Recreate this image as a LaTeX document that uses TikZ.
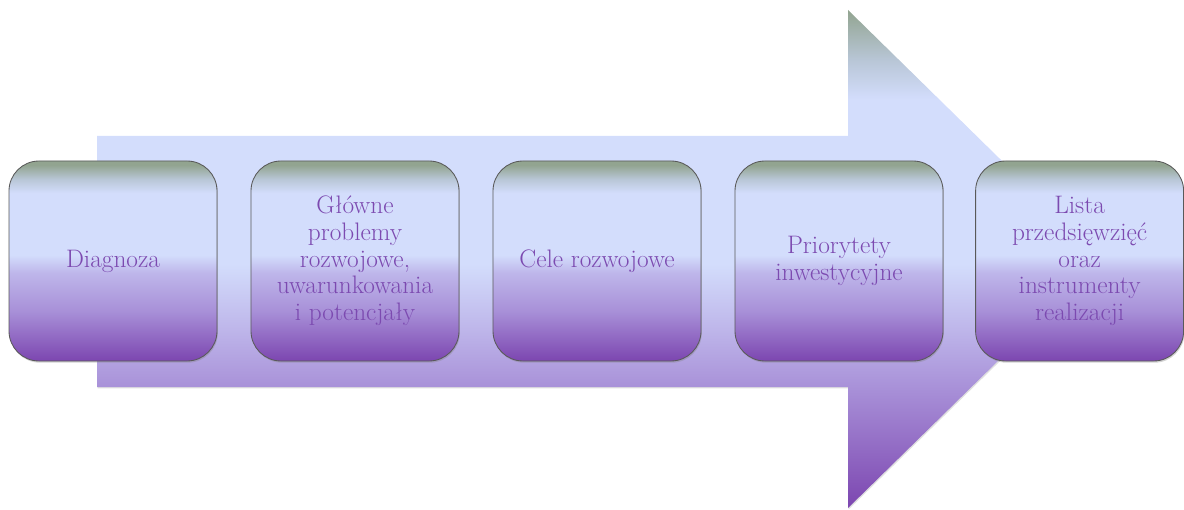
\documentclass[tikz,border=0pt]{standalone}
\usepackage{fontspec}
\usetikzlibrary{shadows,shapes}
\definecolor{sage}{RGB}{146,164,144}
\definecolor{greyblue}{RGB}{184,198,214}
\definecolor{paleblue}{RGB}{211,221,252}
\definecolor{lavender}{RGB}{190,182,234}
\definecolor{midpurple}{RGB}{168,144,216}
\definecolor{botpurple}{RGB}{124,70,176}
\definecolor{txtpurple}{RGB}{124,74,176}
\pgfdeclareverticalshading{stagefill}{100bp}{color(0bp)=(botpurple); color(25bp)=(botpurple); color(37.5bp)=(midpurple); color(47bp)=(lavender); color(51.5bp)=(paleblue); color(67bp)=(paleblue); color(70.5bp)=(greyblue); color(74bp)=(sage); color(100bp)=(sage)}
\pgfdeclareverticalshading{bigarrow}{100bp}{color(0bp)=(botpurple); color(25bp)=(botpurple); color(37bp)=(midpurple); color(43bp)=(lavender); color(49.5bp)=(paleblue); color(66bp)=(paleblue); color(70bp)=(greyblue); color(75bp)=(sage); color(100bp)=(sage)}
\tikzstyle{stage} = [rectangle, rounded corners=0.75cm, minimum width=5.2cm, minimum height=5cm, draw=black!65, line width=0.6pt, shade, shading=stagefill, text=txtpurple, font=\fontsize{18}{19}\selectfont, align=center, drop shadow={opacity=0.35, shadow xshift=0.6pt, shadow yshift=-1.2pt}]

\begin{document}
\begin{tikzpicture}
\useasboundingbox (0,0) rectangle (29.6,12.725);
\path [shade, shading=bigarrow, drop shadow={opacity=0.25, shadow xshift=0.5pt, shadow yshift=-1pt}] (2.425,3.05) -- (2.425,9.325) -- (21.2,9.325) -- (21.2,12.475) -- (27.55,6.25) -- (21.2,0.025) -- (21.2,3.05) -- cycle;
\node (b1) [stage] at (2.825,6.2) {Diagnoza};
\node (b2) [stage] at (8.875,6.2) {Główne\\problemy\\rozwojowe,\\uwarunkowania\\i potencjały};
\node (b3) [stage] at (14.925,6.2) {Cele rozwojowe};
\node (b4) [stage] at (20.975,6.2) {Priorytety\\inwestycyjne};
\node (b5) [stage] at (26.99,6.2) {Lista\\przedsięwzięć\\oraz\\instrumenty\\realizacji};
\end{tikzpicture}
\end{document}
